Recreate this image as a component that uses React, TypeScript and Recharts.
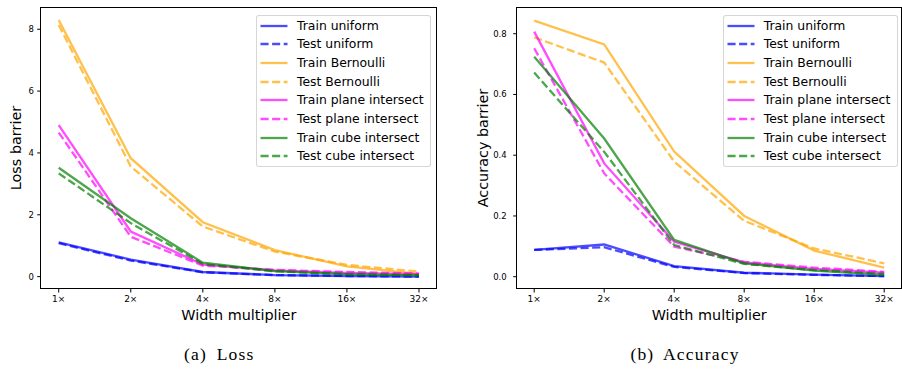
import React from 'react';
import { LineChart, Line, XAxis, YAxis } from 'recharts';

const multipliers = ['1×', '2×', '4×', '8×', '16×', '32×'];

// loss barrier
const lossTrainUniform = [1.11, 0.55, 0.15, 0.05, 0.02, 0.0];
const lossTestUniform = [1.08, 0.52, 0.14, 0.05, 0.02, 0.0];
const lossTrainBernoulli = [8.3, 3.83, 1.76, 0.86, 0.33, 0.09];
const lossTestBernoulli = [8.14, 3.56, 1.62, 0.81, 0.38, 0.16];
const lossTrainPlane = [4.9, 1.46, 0.39, 0.2, 0.12, 0.08];
const lossTestPlane = [4.66, 1.29, 0.36, 0.22, 0.15, 0.1];
const lossTrainCube = [3.52, 1.89, 0.45, 0.18, 0.08, 0.04];
const lossTestCube = [3.34, 1.73, 0.41, 0.17, 0.08, 0.05];

// accuracy barrier
const accTrainUniform = [0.088, 0.106, 0.035, 0.013, 0.007, 0.002];
const accTestUniform = [0.088, 0.097, 0.032, 0.012, 0.006, 0.002];
const accTrainBernoulli = [0.843, 0.765, 0.412, 0.2, 0.086, 0.03];
const accTestBernoulli = [0.788, 0.705, 0.379, 0.184, 0.093, 0.044];
const accTrainPlane = [0.807, 0.373, 0.115, 0.047, 0.026, 0.013];
const accTestPlane = [0.752, 0.34, 0.099, 0.049, 0.03, 0.016];
const accTrainCube = [0.724, 0.455, 0.121, 0.044, 0.02, 0.006];
const accTestCube = [0.672, 0.411, 0.104, 0.042, 0.022, 0.009];

const SERIES = [
  { key: 'trainUniform', name: 'Train uniform', color: '#0000ff', dashed: false },
  { key: 'testUniform', name: 'Test uniform', color: '#0000ff', dashed: true },
  { key: 'trainBernoulli', name: 'Train Bernoulli', color: '#ffa500', dashed: false },
  { key: 'testBernoulli', name: 'Test Bernoulli', color: '#ffa500', dashed: true },
  { key: 'trainPlane', name: 'Train plane intersect', color: '#ff00ff', dashed: false },
  { key: 'testPlane', name: 'Test plane intersect', color: '#ff00ff', dashed: true },
  { key: 'trainCube', name: 'Train cube intersect', color: '#008000', dashed: false },
  { key: 'testCube', name: 'Test cube intersect', color: '#008000', dashed: true },
];

const buildRows = (cols: number[][]) =>
  multipliers.map((m, i) => {
    const row: any = { x: i, label: m };
    SERIES.forEach((s, j) => { row[s.key] = cols[j][i]; });
    return row;
  });

const lossData = buildRows([
  lossTrainUniform, lossTestUniform, lossTrainBernoulli, lossTestBernoulli,
  lossTrainPlane, lossTestPlane, lossTrainCube, lossTestCube,
]);
const accData = buildRows([
  accTrainUniform, accTestUniform, accTrainBernoulli, accTestBernoulli,
  accTrainPlane, accTestPlane, accTrainCube, accTestCube,
]);

const SANS = '"DejaVu Sans", sans-serif';
const LW = 2.3;
const DASH = '8.1 3.5';

function Panel(props: {
  left: number; width: number; data: any[]; yLabel: string; caption: string;
  yDomain: number[]; yTicks: number[]; yFmt: (v: number) => string;
  plotLeft: number; yTickMargin: number; legendLeft: number; captionCenter: number;
}) {
  const { left, width, data, yLabel, caption, yDomain, yTicks, yFmt, plotLeft, yTickMargin, legendLeft, captionCenter } = props;
  const top = 7.3, bottom = 289, height = 330;
  const rightMargin = left === 0 ? 13 : 0.3;
  const plotW = width - rightMargin - plotLeft;
  return (
    <div style={{ position: 'absolute', left, top: 0, width, height: 369 }}>
      <LineChart width={width} height={height} data={data}
        margin={{ top, right: rightMargin, left: 0, bottom: 0 }}>
        <XAxis dataKey="x" type="number" domain={[-0.25, 5.25]} ticks={[0, 1, 2, 3, 4, 5]}
          tickFormatter={(v: number) => multipliers[v]} height={height - bottom}
          axisLine={false} tickLine={{ stroke: '#000' }} tickSize={3.5} tickMargin={3}
          tick={{ fill: '#000', fontSize: 9, fontFamily: SANS }} interval={0} />
        <YAxis type="number" domain={yDomain} ticks={yTicks} tickFormatter={yFmt}
          width={plotLeft} axisLine={false} tickLine={{ stroke: '#000' }} tickSize={3.5}
          tickMargin={yTickMargin} allowDataOverflow
          tick={{ fill: '#000', fontSize: 8.5, fontFamily: SANS }} />
        {SERIES.map((s) => (
          <Line key={s.key} dataKey={s.key} name={s.name} type="linear" stroke={s.color}
            strokeOpacity={0.7} strokeWidth={LW} strokeDasharray={s.dashed ? DASH : undefined}
            dot={false} activeDot={false} isAnimationActive={false} />
        ))}
      </LineChart>

      {/* axes frame */}
      <div style={{
        position: 'absolute', left: plotLeft - 0.5, top: top - 0.5, width: plotW + 1, height: bottom - top + 1,
        border: '1.1px solid #000', boxSizing: 'border-box', pointerEvents: 'none',
      }} />

      {/* legend */}
      <div style={{
        position: 'absolute', left: legendLeft, top: 14.7, width: 175, height: 152,
        border: '1px solid rgba(204,204,204,0.8)', borderRadius: 3, background: 'rgba(255,255,255,0.8)',
        boxSizing: 'border-box', fontFamily: SANS, fontSize: 12.4, color: '#000',
      }}>
        {SERIES.map((s, i) => (
          <div key={s.key} style={{ position: 'absolute', left: 0, top: 10 + i * 18.66 - 9, height: 18, width: 175 }}>
            <svg width={30} height={18} style={{ position: 'absolute', left: 3, top: 0 }}>
              <line x1={0.5} x2={27.5} y1={9} y2={9} stroke={s.color} strokeOpacity={0.7}
                strokeWidth={LW} strokeDasharray={s.dashed ? DASH : undefined} />
            </svg>
            <span style={{ position: 'absolute', left: 40, top: 0, lineHeight: '18px', whiteSpace: 'nowrap' }}>{s.name}</span>
          </div>
        ))}
      </div>

      {/* axis labels */}
      <div style={{
        position: 'absolute', left: plotLeft, width: plotW, top: 306, textAlign: 'center',
        fontFamily: SANS, fontSize: 14.4, color: '#000', lineHeight: '18px',
      }}>Width multiplier</div>
      <div style={{
        position: 'absolute', left: (left === 0 ? 15.8 : 33) - 100, top: 148.2 - 9, width: 200, height: 18,
        textAlign: 'center', fontFamily: SANS, fontSize: 14.4, color: '#000', lineHeight: '18px',
        transform: 'rotate(-90deg)', whiteSpace: 'nowrap',
      }}>{yLabel}</div>

      {/* caption */}
      <div style={{
        position: 'absolute', left: captionCenter - 100, width: 200, top: 344, textAlign: 'center',
        fontFamily: '"Liberation Serif", serif', fontSize: 17.5, letterSpacing: 1.2, wordSpacing: 4,
        color: '#000', lineHeight: '20px', whiteSpace: 'nowrap',
      }}>{caption}</div>
    </div>
  );
}

export default function App() {
  return (
    <div style={{ position: 'absolute', left: 0, top: 0, width: 902, height: 369, background: '#fff', overflow: 'hidden' }}>
      <Panel left={0} width={450} data={lossData} yLabel="Loss barrier" caption="(a) Loss"
        yDomain={[-0.4, 8.71]} yTicks={[0, 2, 4, 6, 8]} yFmt={(v) => String(v)}
        plotLeft={40.7} yTickMargin={3.4} legendLeft={256} captionCenter={219.3} />
      <Panel left={450} width={452} data={accData} yLabel="Accuracy barrier" caption="(b) Accuracy"
        yDomain={[-0.0405, 0.887]} yTicks={[0, 0.2, 0.4, 0.6, 0.8]} yFmt={(v) => v.toFixed(1)}
        plotLeft={66.7} yTickMargin={6.5} legendLeft={272.7} captionCenter={235} />
    </div>
  );
}
